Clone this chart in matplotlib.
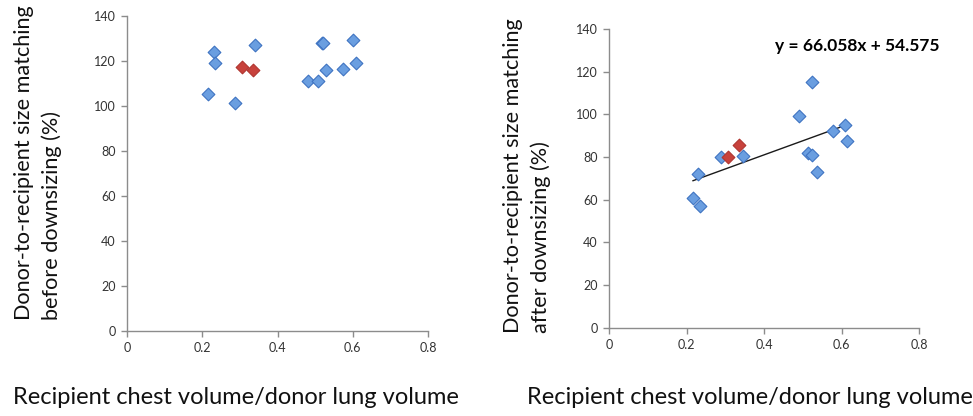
import matplotlib
matplotlib.use("Agg")
import matplotlib.pyplot as plt
import numpy as np

plt.rcParams['font.family'] = ['Lato', 'DejaVu Sans']

# Data
blue_x_before = [0.2145, 0.231, 0.233, 0.287, 0.341, 0.481, 0.508, 0.517, 0.520, 0.530, 0.575, 0.601, 0.608]
blue_y_before = [105, 124, 119, 101, 127, 111, 111, 128, 128, 116, 116.5, 129, 119]
red_x_before = [0.306, 0.336]
red_y_before = [117, 116]

blue_x_after = [0.2168, 0.2297, 0.235, 0.290, 0.345, 0.4895, 0.5127, 0.5247, 0.5247, 0.536, 0.579, 0.609, 0.613]
blue_y_after = [61, 72, 57, 80, 80.5, 99, 82, 81, 115, 73, 92, 95, 87.5]
red_x_after = [0.306, 0.336]
red_y_after = [80, 85.5]

fit_slope = 66.058
fit_intercept = 54.575
fit_label = "y = 66.058x + 54.575"

x_ticks = [0, 0.2, 0.4, 0.6, 0.8]
x_tick_labels = ["0", "0.2", "0.4", "0.6", "0.8"]
y_ticks = [0, 20, 40, 60, 80, 100, 120, 140]

ylabel_before = "Donor-to-recipient size matching\nbefore downsizing (%)"
ylabel_after = "Donor-to-recipient size matching\nafter downsizing (%)"
xlabel = "Recipient chest volume/donor lung volume"

W, H = 973, 416
fig = plt.figure(figsize=(W / 100, H / 100), dpi=100)

def px_axes(x0, x1, ytop, ybot):
    return fig.add_axes([x0 / W, 1 - ybot / H, (x1 - x0) / W, (ybot - ytop) / H])

ax1 = px_axes(127, 428, 15.7, 330.7)
ax2 = px_axes(609, 919, 29, 327.7)

blue_face = '#6A9EE0'
blue_edge = '#3F73C2'
red_face = '#C8423C'
red_edge = '#B03530'
axis_col = '#8C8C8C'

for ax in (ax1, ax2):
    ax.set_xlim(0, 0.8)
    ax.set_ylim(0, 140)
    ax.set_xticks(x_ticks)
    ax.set_xticklabels(x_tick_labels)
    ax.set_yticks(y_ticks)
    for s in ('top', 'right'):
        ax.spines[s].set_visible(False)
    for s in ('left', 'bottom'):
        ax.spines[s].set_color(axis_col)
        ax.spines[s].set_linewidth(1.0)
    ax.tick_params(direction='out', length=4, width=1.0, color=axis_col,
                   labelsize=9, labelcolor='#333333', pad=4)
    ax.set_facecolor('none')

ax1.scatter(blue_x_before, blue_y_before, marker='D', s=42, c=blue_face,
            edgecolors=blue_edge, linewidths=0.8, zorder=3)
ax1.scatter(red_x_before, red_y_before, marker='D', s=42, c=red_face,
            edgecolors=red_edge, linewidths=0.8, zorder=3)

ax2.scatter(blue_x_after, blue_y_after, marker='D', s=42, c=blue_face,
            edgecolors=blue_edge, linewidths=0.8, zorder=3)
ax2.scatter(red_x_after, red_y_after, marker='D', s=42, c=red_face,
            edgecolors=red_edge, linewidths=0.8, zorder=3)

all_x = blue_x_after + red_x_after
xf = np.array([min(all_x), max(all_x)])
ax2.plot(xf, fit_slope * xf + fit_intercept, color='#1a1a1a', lw=1.0, zorder=2)
ax2.text(0.428, 131.8, fit_label, fontsize=12.5, fontweight='bold', ha='left', va='center')

fig.text(38 / W, 1 - 320 / H, ylabel_before, rotation=90, ha='center', va='bottom',
         multialignment='left', fontsize=15.6, linespacing=1.45, color='#111111')
fig.text(527 / W, 1 - 333 / H, ylabel_after, rotation=90, ha='center', va='bottom',
         multialignment='left', fontsize=15.6, linespacing=1.45, color='#111111')

fig.text(236 / W, 1 - 398 / H, xlabel, ha='center', va='center', fontsize=17, color='#111111')
fig.text(750 / W, 1 - 398 / H, xlabel, ha='center', va='center', fontsize=17, color='#111111')

fig.savefig('out.png', dpi=100)
